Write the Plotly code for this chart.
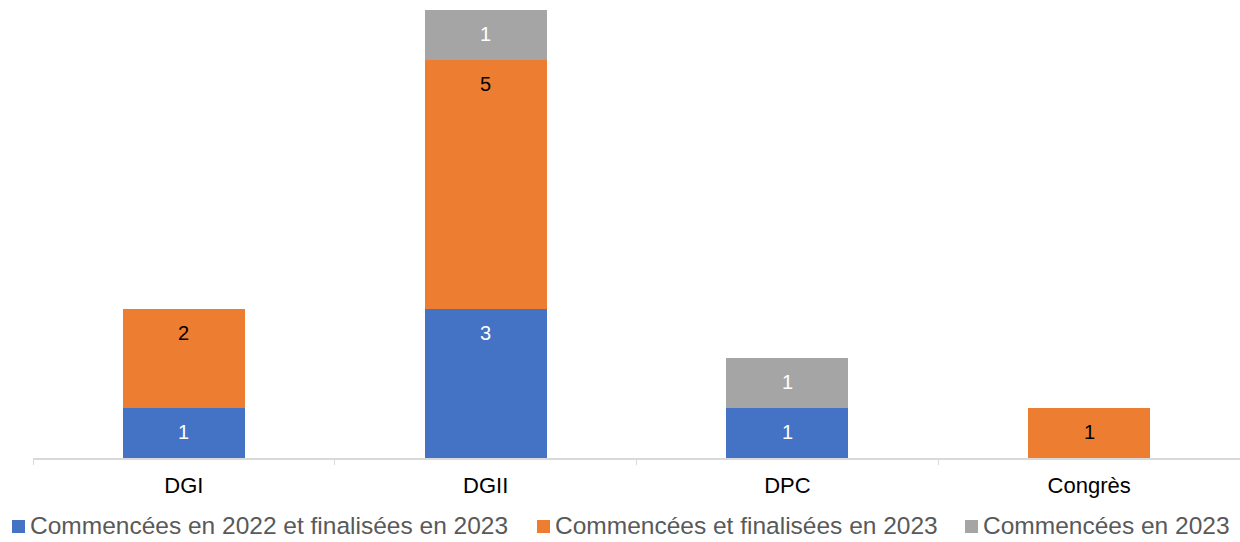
import plotly.graph_objects as go

# Catégories et séries
categories = ["DGI", "DGII", "DPC", "Congrès"]
series_names = [
    "Commencées en 2022 et finalisées en 2023",
    "Commencées et finalisées en 2023",
    "Commencées en 2023",
]
started_2022_done_2023 = [1, 3, 1, 0]
started_done_2023 = [2, 5, 0, 1]
started_2023 = [0, 1, 1, 0]

series_values = [started_2022_done_2023, started_done_2023, started_2023]
colors = ["#4472C4", "#ED7D31", "#A5A5A5"]
label_colors = ["white", "black", "white"]
FONT = "Liberation Sans, Arial"

W, H = 1240, 542
M = dict(l=33, r=0, t=10, b=84)
plot_w = W - M["l"] - M["r"]
plot_h = H - M["t"] - M["b"]


def px_to_paper(px, py):
    return (px - M["l"]) / plot_w, (H - M["b"] - py) / plot_h


fig = go.Figure()
cumulative = [0] * len(categories)
for name, vals, col, lcol in zip(series_names, series_values, colors, label_colors):
    fig.add_trace(go.Bar(
        x=categories,
        y=[v if v else None for v in vals],
        name=name,
        marker=dict(color=col, line=dict(width=0)),
        showlegend=False,
        hoverinfo="skip",
    ))
    # Étiquette de valeur placée près du haut de chaque segment
    for i, v in enumerate(vals):
        cumulative[i] += v
        if v:
            fig.add_annotation(
                x=categories[i], y=cumulative[i],
                text=str(v), showarrow=False,
                yanchor="top", yshift=-11,
                font=dict(family=FONT, size=20, color=lcol),
            )

# Légende dessinée sous l'axe : carré de couleur + libellé
legend_left_px = [12, 537, 965]
for name, col, left in zip(series_names, colors, legend_left_px):
    x0, y0 = px_to_paper(left, 533)
    x1, y1 = px_to_paper(left + 13, 520)
    fig.add_shape(type="rect", xref="paper", yref="paper",
                  x0=x0, y0=y0, x1=x1, y1=y1,
                  fillcolor=col, line=dict(width=0))
    tx, ty = px_to_paper(left + 16, 525)
    fig.add_annotation(
        text=name, xref="paper", yref="paper",
        x=tx, y=ty, xanchor="left", yanchor="middle",
        showarrow=False,
        font=dict(family=FONT, size=24.5, color="#595959"),
    )

fig.update_layout(
    width=W, height=H,
    barmode="stack",
    bargap=0.596,
    plot_bgcolor="white",
    paper_bgcolor="white",
    margin=M,
    font=dict(family=FONT, size=22, color="black"),
    xaxis=dict(
        showline=True, linecolor="#D9D9D9", linewidth=1.5,
        ticks="outside", tickson="boundaries", ticklen=5, tickcolor="#D9D9D9",
        tickfont=dict(family=FONT, size=22, color="black"),
        ticklabelstandoff=7,
        showgrid=False,
    ),
    yaxis=dict(visible=False, range=[0, 9]),
)

fig.write_html("out.html")
